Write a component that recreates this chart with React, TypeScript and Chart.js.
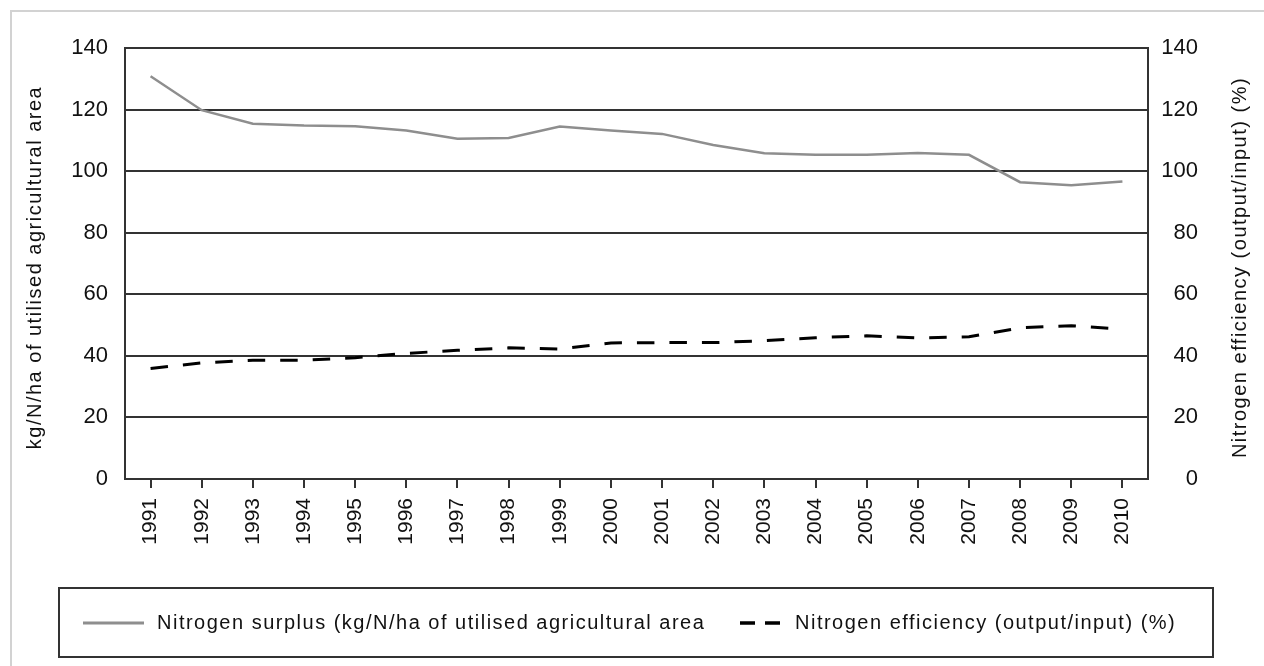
import React, { useEffect, useRef } from 'react';
import { Chart, registerables } from 'chart.js';

Chart.register(...registerables);

// ---- data ----
const years = ['1991', '1992', '1993', '1994', '1995', '1996', '1997', '1998', '1999', '2000',
  '2001', '2002', '2003', '2004', '2005', '2006', '2007', '2008', '2009', '2010'];
const surplus = [130.8, 119.8, 115.4, 114.8, 114.6, 113.2, 110.5, 110.8, 114.5, 113.2,
  112.1, 108.5, 105.8, 105.3, 105.3, 105.9, 105.3, 96.4, 95.4, 96.6];
const efficiency = [35.9, 37.7, 38.6, 38.6, 39.4, 40.8, 41.8, 42.6, 42.2, 44.2,
  44.3, 44.3, 44.9, 45.9, 46.5, 45.8, 46.2, 49.1, 49.8, 48.7];
const yTicks = [0, 20, 40, 60, 80, 100, 120, 140];
const leftTitle = 'kg/N/ha of utilised agricultural area';
const rightTitle = 'Nitrogen efficiency (output/input) (%)';
const surplusLabel = 'Nitrogen surplus (kg/N/ha of utilised agricultural area';
const efficiencyLabel = 'Nitrogen efficiency (output/input) (%)';

const FONT = '"Liberation Sans", Arial, sans-serif';
const DARK = '#333333';

const decorPlugin = {
  id: 'decor',
  beforeDraw(chart: any) {
    const ctx = chart.ctx;
    ctx.save();
    ctx.fillStyle = '#ffffff';
    ctx.fillRect(0, 0, chart.width, chart.height);
    ctx.strokeStyle = '#d2d2d2';
    ctx.lineWidth = 2;
    ctx.beginPath();
    ctx.moveTo(11, chart.height);
    ctx.lineTo(11, 11);
    ctx.lineTo(chart.width, 11);
    ctx.stroke();
    ctx.restore();
  },
  afterDraw(chart: any) {
    const ctx = chart.ctx;
    const area = chart.chartArea;
    const midY = (area.top + area.bottom) / 2 + 4;
    ctx.save();
    (ctx as any).letterSpacing = '1.5px';
    ctx.font = `20px ${FONT}`;
    ctx.fillStyle = '#111111';
    ctx.textAlign = 'center';
    ctx.textBaseline = 'middle';
    // axis titles (both read bottom to top)
    ctx.save();
    ctx.translate(35, midY);
    ctx.rotate(-Math.PI / 2);
    ctx.fillText(leftTitle, 0, 0);
    ctx.restore();
    ctx.save();
    ctx.translate(1240, midY);
    ctx.rotate(-Math.PI / 2);
    ctx.fillText(rightTitle, 0, 0);
    ctx.restore();

    // legend box
    const bx = 59, by = 588, bw = 1213 - 59, bh = 657 - 588;
    ctx.strokeStyle = DARK;
    ctx.lineWidth = 2;
    ctx.setLineDash([]);
    ctx.strokeRect(bx, by, bw, bh);
    const ly = 623;
    const ds0 = chart.data.datasets[0];
    const ds1 = chart.data.datasets[1];
    // sample 1
    ctx.beginPath();
    ctx.strokeStyle = ds0.borderColor;
    ctx.lineWidth = 3;
    ctx.setLineDash([]);
    ctx.moveTo(83, ly);
    ctx.lineTo(144, ly);
    ctx.stroke();
    ctx.textAlign = 'left';
    ctx.fillText(ds0.label, 157, ly);
    // sample 2
    ctx.beginPath();
    ctx.strokeStyle = ds1.borderColor;
    ctx.lineWidth = 3.5;
    ctx.setLineDash([15, 10]);
    ctx.moveTo(740, ly);
    ctx.lineTo(781, ly);
    ctx.stroke();
    ctx.setLineDash([]);
    ctx.fillText(ds1.label, 795, ly);
    ctx.restore();
  },
};

export default function App() {
  const ref = useRef<HTMLCanvasElement | null>(null);

  useEffect(() => {
    if (!ref.current) return;
    const step = yTicks[1] - yTicks[0];
    const yMin = yTicks[0];
    const yMax = yTicks[yTicks.length - 1];
    const chart = new Chart(ref.current, {
      type: 'line',
      data: {
        labels: years,
        datasets: [
          {
            label: surplusLabel,
            data: surplus,
            yAxisID: 'y',
            borderColor: '#8e8e8e',
            borderWidth: 2.5,
            pointRadius: 0,
            tension: 0,
            fill: false,
          },
          {
            label: efficiencyLabel,
            data: efficiency,
            yAxisID: 'y1',
            borderColor: '#000000',
            borderWidth: 3,
            borderDash: [17.5, 15],
            pointRadius: 0,
            tension: 0,
            fill: false,
          },
        ],
      },
      options: {
        responsive: false,
        animation: false,
        devicePixelRatio: 1,
        layout: { padding: { top: 48, bottom: 101, left: 0, right: 66 } },
        plugins: {
          legend: { display: false },
          tooltip: { enabled: false },
        },
        scales: {
          x: {
            offset: true,
            grid: {
              drawOnChartArea: false,
              drawTicks: true,
              tickLength: 9,
              color: DARK,
              lineWidth: 2,
              offset: false,
            },
            border: { display: true, color: DARK, width: 2 },
            ticks: {
              minRotation: 90,
              maxRotation: 90,
              autoSkip: false,
              padding: 10,
              color: '#111111',
              font: { family: FONT, size: 21 },
            },
            afterFit(scale: any) {
              scale.height = 86;
            },
          },
          y: {
            position: 'left',
            min: yMin,
            max: yMax,
            ticks: {
              stepSize: step,
              padding: 17,
              color: '#111111',
              font: { family: FONT, size: 22 },
            },
            grid: {
              color: DARK,
              lineWidth: 2,
              drawTicks: false,
            },
            border: { display: true, color: DARK, width: 2 },
            afterFit(scale: any) {
              scale.width = 125;
            },
          },
          y1: {
            position: 'right',
            min: yMin,
            max: yMax,
            ticks: {
              stepSize: step,
              padding: 13,
              crossAlign: 'far',
              color: '#111111',
              font: { family: FONT, size: 22 },
            },
            grid: {
              drawOnChartArea: false,
              drawTicks: false,
            },
            border: { display: true, color: DARK, width: 2 },
            afterFit(scale: any) {
              scale.width = 50;
            },
          },
        },
      },
      plugins: [decorPlugin],
    });
    return () => chart.destroy();
  }, []);

  return (
    <div style={{ position: 'absolute', left: 0, top: 0, width: 1264, height: 666, overflow: 'hidden', background: '#fff' }}>
      <canvas ref={ref} width={1264} height={666} style={{ display: 'block' }} />
    </div>
  );
}
